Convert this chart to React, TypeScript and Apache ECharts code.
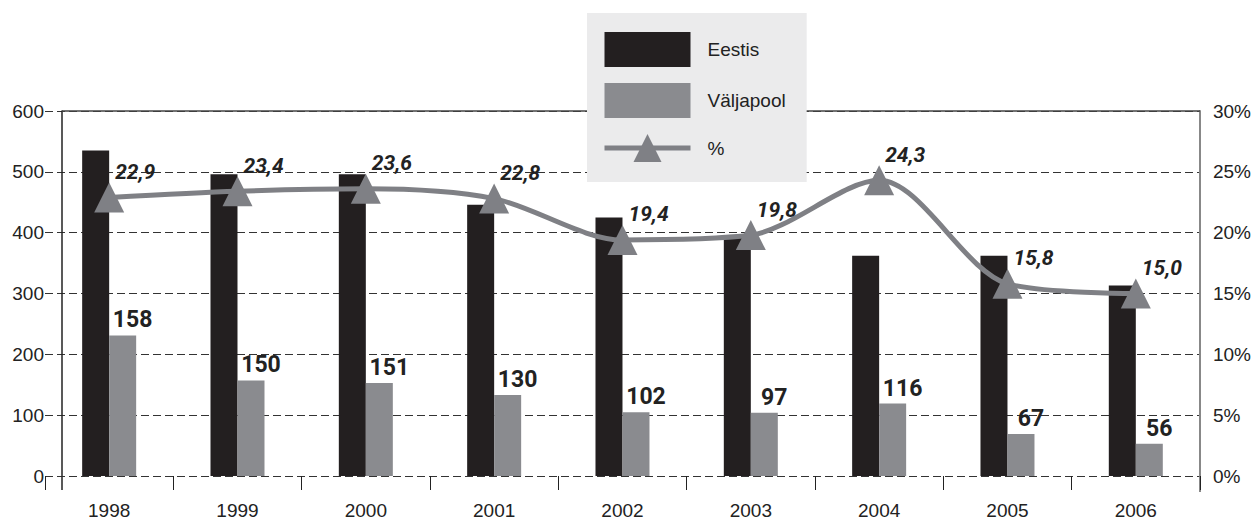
import React, { useEffect, useRef } from "react";
import * as echarts from "echarts";

// ---- data ----
const years = ["1998", "1999", "2000", "2001", "2002", "2003", "2004", "2005", "2006"];
const eestis = [535, 496, 496, 446, 425, 393, 362, 362, 313];
const valjapool = [231, 157, 153, 133, 105, 104, 119, 69, 53];
const valjapoolLabels = [158, 150, 151, 130, 102, 97, 116, 67, 56];
const protsent = [22.9, 23.4, 23.6, 22.8, 19.4, 19.8, 24.3, 15.8, 15.0];
const seriesNames = ["Eestis", "Väljapool", "%"];

// ---- layout / style constants ----
const W = 1254;
const H = 520;
const GRID_LEFT = 45;
const GRID_RIGHT = 54;
const GRID_TOP = 111;
const GRID_BOTTOM = 43;
const LEFT_AXIS_SHIFT = 17;
const FONT = "'Liberation Sans', Arial, sans-serif";
const BOLD_FONT = "Roboto, 'Liberation Sans', sans-serif";
const BLACK = "#231f20";
const GRAY = "#8a8b8f";
const LINE_GRAY = "#7f8085";

export default function App() {
  const ref = useRef<HTMLDivElement>(null);

  useEffect(() => {
    if (!ref.current) return;
    const chart = echarts.init(ref.current, null, { renderer: "svg" });
    const y0 = H - GRID_BOTTOM;
    const leftX = GRID_LEFT + LEFT_AXIS_SHIFT;
    const rightX = W - GRID_RIGHT;

    chart.setOption({
      animation: false,
      backgroundColor: "#ffffff",
      grid: { left: GRID_LEFT, right: GRID_RIGHT, top: GRID_TOP, bottom: GRID_BOTTOM },
      legend: {
        data: [
          { name: seriesNames[0], icon: "rect" },
          { name: seriesNames[1], icon: "rect" },
          { name: seriesNames[2] },
        ],
        orient: "vertical",
        left: 587,
        top: 13,
        padding: [19, 21, 20, 15],
        itemGap: 16,
        itemWidth: 86,
        itemHeight: 35,
        backgroundColor: "#ebebec",
        lineStyle: { width: 5 },
        textStyle: { fontSize: 19, color: "#222", fontFamily: FONT, padding: [0, 0, 0, 12] },
        selectedMode: false,
        z: 10,
      },
      xAxis: {
        type: "category",
        data: years,
        axisLine: { show: false },
        axisTick: { show: true, length: 14, lineStyle: { color: "#222", width: 1 } },
        axisLabel: { fontSize: 19, color: "#222", fontFamily: FONT, margin: 25 },
        splitLine: { show: false },
      },
      yAxis: [
        {
          type: "value",
          min: 0,
          max: 600,
          interval: 100,
          offset: -LEFT_AXIS_SHIFT,
          axisLine: { show: true, lineStyle: { color: "#222", width: 1.5 } },
          axisTick: { show: false },
          axisLabel: { fontSize: 19, color: "#222", fontFamily: FONT, margin: 18 },
          splitLine: { show: true, lineStyle: { color: "#333", width: 1, type: [8, 4] } },
        },
        {
          type: "value",
          min: 0,
          max: 30,
          interval: 5,
          axisLine: { show: true, lineStyle: { color: "#888", width: 2 } },
          axisTick: { show: false },
          axisLabel: { fontSize: 19, color: "#222", fontFamily: FONT, margin: 13, formatter: "{value}%" },
          splitLine: { show: false },
        },
      ],
      series: [
        {
          name: seriesNames[0],
          type: "bar",
          data: eestis,
          barWidth: 27,
          barGap: "0%",
          itemStyle: { color: BLACK },
          z: 2,
        },
        {
          name: seriesNames[1],
          type: "bar",
          data: valjapool,
          barWidth: 27,
          barGap: "0%",
          itemStyle: { color: GRAY },
          z: 2,
          label: {
            show: true,
            position: "top",
            distance: 4,
            offset: [10, 0],
            fontSize: 23,
            fontWeight: "bold",
            color: "#222",
            fontFamily: BOLD_FONT,
            formatter: (p: any) => String(valjapoolLabels[p.dataIndex]),
          },
        },
        {
          name: seriesNames[2],
          type: "line",
          yAxisIndex: 1,
          data: protsent,
          smooth: 0.3,
          symbol: "triangle",
          symbolSize: 30,
          itemStyle: { color: LINE_GRAY },
          lineStyle: { color: LINE_GRAY, width: 5 },
          z: 5,
          label: {
            show: true,
            position: [21, -21],
            fontSize: 21,
            fontWeight: "bold",
            fontStyle: "italic",
            color: "#222",
            fontFamily: BOLD_FONT,
            formatter: (p: any) => Number(p.value).toFixed(1).replace(".", ","),
          },
        },
      ],
      graphic: [
        {
          type: "line",
          shape: { x1: leftX, y1: GRID_TOP, x2: rightX, y2: GRID_TOP },
          style: { stroke: "#444", lineWidth: 1.5 },
          z: 1,
          silent: true,
        },
        {
          type: "line",
          shape: { x1: leftX, y1: y0, x2: leftX, y2: y0 + 13 },
          style: { stroke: "#222", lineWidth: 1.5 },
          silent: true,
        },
        {
          type: "line",
          shape: { x1: rightX, y1: y0, x2: rightX, y2: y0 + 15 },
          style: { stroke: "#888", lineWidth: 2 },
          silent: true,
        },
      ],
    });

    return () => chart.dispose();
  }, []);

  return (
    <div
      ref={ref}
      style={{ position: "fixed", left: 0, top: 0, width: W, height: H, background: "#fff" }}
    />
  );
}
